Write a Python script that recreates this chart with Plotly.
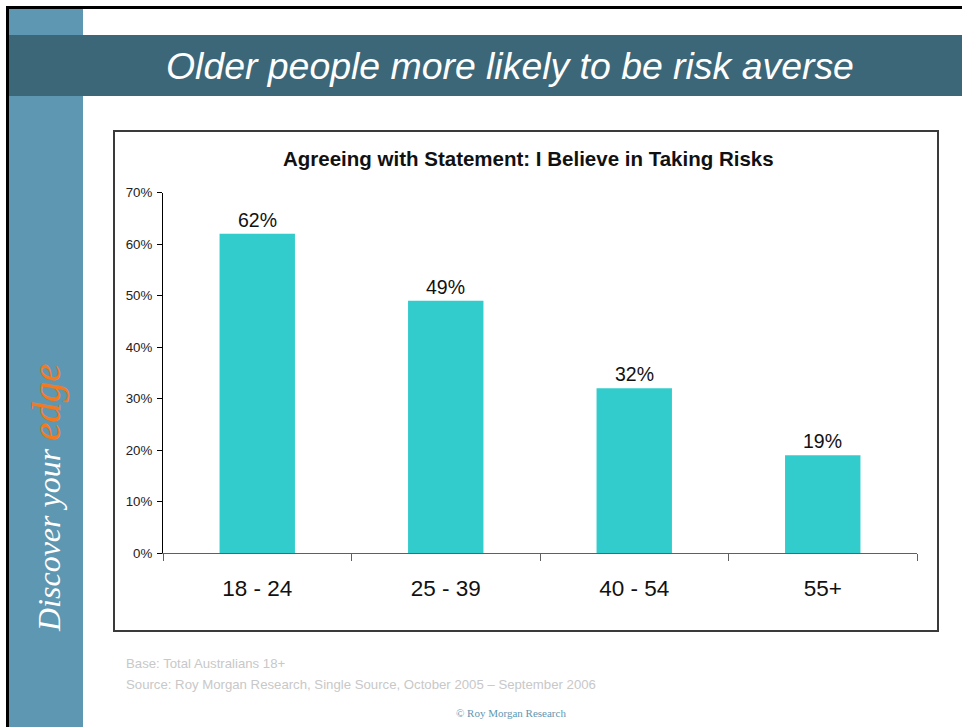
import plotly.graph_objects as go

# Survey results by age group
age_groups = ["18 - 24", "25 - 39", "40 - 54", "55+"]
agree_pct = [62, 49, 32, 19]
y_ticks = [0, 10, 20, 30, 40, 50, 60, 70]
y_tick_labels = [f"{t}%" for t in y_ticks]

W, H = 962, 727
BAR = "#33CCCC"
BAND = "#3B6779"
SIDE = "#5E97B1"


def px(x):
    return x / W


def py(y):
    return 1 - y / H


fig = go.Figure(
    go.Bar(
        x=age_groups,
        y=agree_pct,
        marker=dict(color=BAR, line=dict(width=0)),
        hoverinfo="skip",
    )
)

# value labels sitting just above each bar
value_labels = [
    dict(x=g, y=v, xref="x", yref="y", text=f"{v}%", showarrow=False,
         xanchor="center", yanchor="bottom", yshift=1,
         font=dict(family="Liberation Sans", size=19.5, color="#111111"))
    for g, v in zip(age_groups, agree_pct)
]

shapes = [
    # side strip
    dict(type="rect", xref="paper", yref="paper", x0=px(9), x1=px(83), y0=py(727), y1=py(9),
         fillcolor=SIDE, line=dict(width=0), layer="below"),
    # heading band
    dict(type="rect", xref="paper", yref="paper", x0=px(9), x1=px(962), y0=py(96), y1=py(35),
         fillcolor=BAND, line=dict(width=0), layer="below"),
    # outer frame lines
    dict(type="line", xref="paper", yref="paper", x0=px(7), x1=px(962), y0=py(7.5), y1=py(7.5),
         line=dict(color="black", width=3), layer="above"),
    dict(type="line", xref="paper", yref="paper", x0=px(7.5), x1=px(7.5), y0=py(6), y1=py(727),
         line=dict(color="black", width=3), layer="above"),
    # chart panel
    dict(type="rect", xref="paper", yref="paper", x0=px(114), x1=px(938), y0=py(631), y1=py(131),
         fillcolor="white", line=dict(color="#3a3a3a", width=2), layer="below"),
]

annotations = value_labels + [
    dict(text="<i>Older people more likely to be risk averse</i>", x=px(510), y=py(66),
         xref="paper", yref="paper", showarrow=False, xanchor="center", yanchor="middle",
         font=dict(family="Liberation Sans", size=37.4, color="white")),
    dict(text="<b>Agreeing with Statement: I Believe in Taking Risks</b>", x=px(528), y=py(158),
         xref="paper", yref="paper", showarrow=False, xanchor="center", yanchor="middle",
         font=dict(family="Liberation Sans", size=20.5, color="#111111")),
    dict(text="<i>Discover your <span style='color:#F47A20;font-size:41px'>edge</span></i>",
         x=px(46), y=py(498), xref="paper", yref="paper", showarrow=False, textangle=-90,
         xanchor="center", yanchor="middle",
         font=dict(family="Liberation Serif", size=32, color="white")),
    dict(text="Base: Total Australians 18+", x=px(124), y=py(663), xref="paper", yref="paper",
         showarrow=False, xanchor="left", yanchor="middle",
         font=dict(family="Liberation Sans", size=13.2, color="#C8C8C8")),
    dict(text="Source: Roy Morgan Research, Single Source, October 2005 \u2013 September 2006",
         x=px(124), y=py(684), xref="paper", yref="paper", showarrow=False, xanchor="left",
         yanchor="middle", font=dict(family="Liberation Sans", size=13.2, color="#C8C8C8")),
    dict(text="\u00a9 Roy Morgan Research", x=px(511), y=py(713), xref="paper", yref="paper",
         showarrow=False, xanchor="center", yanchor="middle",
         font=dict(family="Liberation Serif", size=11, color="#5E97B1")),
]

fig.update_layout(
    width=W,
    height=H,
    margin=dict(l=0, r=0, t=0, b=0, pad=0),
    autosize=False,
    paper_bgcolor="white",
    plot_bgcolor="rgba(0,0,0,0)",
    showlegend=False,
    bargap=0.6,
    shapes=shapes,
    annotations=annotations,
    xaxis=dict(
        domain=[px(163), px(917)],
        type="category",
        range=[-0.5, 3.5],
        showline=True,
        linecolor="#606060",
        linewidth=1,
        ticks="outside",
        tickson="boundaries",
        ticklen=7,
        tickcolor="#606060",
        showgrid=False,
        zeroline=False,
        automargin=False,
        ticklabelstandoff=15,
        tickfont=dict(family="Liberation Sans", size=22.5, color="#111111"),
        fixedrange=True,
    ),
    yaxis=dict(
        domain=[py(553), py(192.5)],
        range=[0, 70],
        tickvals=y_ticks,
        ticktext=y_tick_labels,
        showline=True,
        linecolor="black",
        linewidth=1,
        ticks="outside",
        ticklen=5,
        tickcolor="black",
        showgrid=False,
        zeroline=False,
        automargin=False,
        ticklabelstandoff=2,
        tickfont=dict(family="Liberation Sans", size=13.3, color="#222222"),
        fixedrange=True,
    ),
)

# page without default body spacing
fig.write_html(
    "out.html",
    config={"displayModeBar": False},
    post_script="document.body.style.margin='0';document.body.style.overflow='hidden';",
)
